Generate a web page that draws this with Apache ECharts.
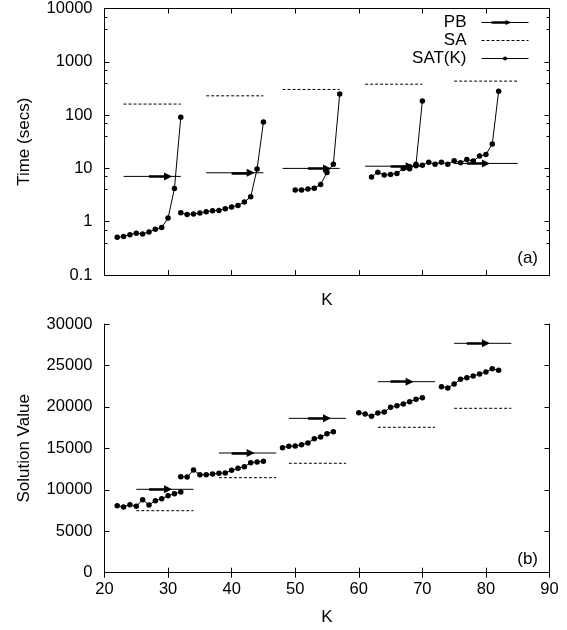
<!DOCTYPE html>
<html lang="en">
<head>
<meta charset="UTF-8">
<title>PB / SA / SAT(K)</title>
<script src="https://cdn.jsdelivr.net/npm/echarts@6/dist/echarts.min.js"></script>
<style>
  html, body { margin: 0; padding: 0; background: #fff; }
  #main { width: 567px; height: 630px; }
</style>
</head>
<body>
<div id="main"></div>
<script>
var FONT = 'Liberation Sans';

// ---- panel (a): time in seconds (log axis) ----
var satStartA = [22, 32, 50, 62, 68];
var satTimeA = [
  [0.51, 0.53, 0.57, 0.61, 0.59, 0.64, 0.72, 0.78, 1.17, 4.2, 91],
  [1.47, 1.37, 1.39, 1.45, 1.54, 1.60, 1.63, 1.75, 1.88, 2.02, 2.33, 2.93, 9.7, 74],
  [3.92, 3.92, 4.10, 4.22, 5.0, 8.4, 12.0, 250],
  [6.9, 8.5, 7.5, 7.7, 8.05, 10.0, 9.85, 12.0, 183],
  [10.7, 11.2, 11.5, 13.1, 12.0, 13.1, 12.0, 13.9, 12.7, 14.7, 13.7, 17.0, 18.3, 28.6, 281]
];
var lineFromA = [23, 36, 48, 61, 75];
var lineToA   = [32, 45, 57, 70, 85];
var pbTimeA = [7.08, 8.28, 10.0, 11.0, 12.4];
var saTimeA = [161, 230, 303, 380, 434];

// ---- panel (b): solution value ----
var satStartB = [22, 32, 48, 60, 73];
var satValueB = [
  [8080, 7925, 8200, 8010, 8810, 8170, 8690, 8930, 9290, 9530, 9735],
  [11580, 11545, 12390, 11820, 11820, 11910, 11990, 12030, 12350, 12590, 12790, 13270, 13350, 13440],
  [15080, 15250, 15280, 15440, 15650, 16160, 16370, 16770, 17010],
  [19300, 19140, 18870, 19265, 19390, 19950, 20150, 20350, 20630, 20920, 21110],
  [22440, 22280, 22760, 23330, 23520, 23730, 23970, 24210, 24610, 24420]
];
var lineFromB = [25, 38, 49, 63, 75];
var lineToB   = [34, 47, 58, 72, 84];
var pbValueB = [10060, 14440, 18620, 23040, 27670];
var saValueB = [7480, 11460, 13200, 17540, 19830];

// arrow drawn on each PB line, same K in both panels
var arrowFrom = [27, 40, 52, 65, 77];
var arrowTo   = [30, 43, 55, 68, 80];

function buildPanel(p, satStart, satVals, from, to, pbVals, saVals) {
  var xi = p * 2, yi = p * 2;
  var out = [];
  satVals.forEach(function (vals, i) {
    var pts = vals.map(function (v, j) { return [satStart[i] + j, v]; });
    out.push({
      type: 'line', name: 'SAT(K)', xAxisIndex: xi, yAxisIndex: yi, data: pts,
      symbol: 'circle', symbolSize: 5.5, z: 4,
      lineStyle: { color: '#000', width: 1 },
      itemStyle: { color: '#000', borderWidth: 0 }
    });
  });
  for (var i = 0; i < from.length; i++) {
    out.push({
      type: 'line', name: 'SA', xAxisIndex: xi, yAxisIndex: yi,
      data: [[from[i], saVals[i]], [to[i], saVals[i]]], symbol: 'none',
      lineStyle: { color: '#000', width: 1, type: [3, 2] },
      itemStyle: { color: '#000', borderWidth: 0 }
    });
    out.push({
      type: 'line', name: 'PB', xAxisIndex: xi, yAxisIndex: yi,
      data: [[from[i], pbVals[i]], [to[i], pbVals[i]]], symbol: 'none',
      lineStyle: { color: '#000', width: 1 },
      itemStyle: { color: '#000', borderWidth: 0 }
    });
  }
  out.push({
    type: 'lines', name: 'PB', coordinateSystem: 'cartesian2d',
    xAxisIndex: xi, yAxisIndex: yi, z: 3,
    data: arrowFrom.map(function (a, i) {
      return { coords: [[a, pbVals[i]], [arrowTo[i], pbVals[i]]] };
    }),
    lineStyle: { color: '#000', width: 2.5, opacity: 1 },
    symbol: ['none', 'triangle'], symbolSize: [5, 8]
  });
  return out;
}

function axisCommon() {
  return {
    axisLine: { show: true, lineStyle: { color: '#000', width: 1 } },
    axisTick: { show: true, inside: true, length: 5, lineStyle: { color: '#000' } },
    splitLine: { show: false },
    axisLabel: { color: '#000', fontFamily: FONT, fontSize: 16.5 },
    nameTextStyle: { color: '#000', fontFamily: FONT, fontSize: 17 }
  };
}

function xAx(grid, pos, labels, name, gap) {
  var a = axisCommon();
  a.type = 'value'; a.gridIndex = grid; a.position = pos;
  a.min = 20; a.max = 90; a.interval = 10;
  a.axisLabel.show = labels; a.axisLabel.margin = 8;
  if (name) { a.name = name; a.nameLocation = 'middle'; a.nameGap = gap; }
  return a;
}

function logY(pos, name) {
  var a = axisCommon();
  a.type = 'log'; a.logBase = 10; a.gridIndex = 0; a.position = pos;
  a.min = 0.1; a.max = 10000;
  a.minorTick = { show: true, splitNumber: 3, length: 3, lineStyle: { color: '#000' } };
  a.axisLabel.show = !!name; a.axisLabel.margin = 12;
  a.axisLabel.formatter = function (v) { return String(+(+v).toPrecision(6)); };
  if (name) { a.name = name; a.nameLocation = 'middle'; a.nameGap = 72; }
  return a;
}

function linY(pos, name) {
  var a = axisCommon();
  a.type = 'value'; a.gridIndex = 1; a.position = pos;
  a.min = 0; a.max = 30000; a.interval = 5000;
  a.axisLabel.show = !!name; a.axisLabel.margin = 12;
  a.axisLabel.formatter = function (v) { return String(v); };
  if (name) { a.name = name; a.nameLocation = 'middle'; a.nameGap = 72; }
  return a;
}

var chart = echarts.init(document.getElementById('main'));
var option = {
  backgroundColor: '#fff',
  animation: false,
  grid: [
    { left: 104.5, right: 17.5, top: 8.5, height: 266.5 },
    { left: 104.5, right: 17.5, top: 324, height: 248.7 }
  ],
  xAxis: [
    xAx(0, 'bottom', false, 'K', 16.5),
    xAx(0, 'top', false),
    xAx(1, 'bottom', true, 'K', 36),
    xAx(1, 'top', false)
  ],
  yAxis: [
    logY('left', 'Time (secs)'),
    logY('right'),
    linY('left', 'Solution Value'),
    linY('right')
  ],
  legend: {
    orient: 'vertical', align: 'right', right: 38, top: 14, padding: 0,
    itemWidth: 47, itemHeight: 5, itemGap: 1,
    lineStyle: { width: 1 },
    textStyle: { color: '#000', fontFamily: FONT, fontSize: 17, lineHeight: 17, padding: [0, 10, 0, 0] },
    data: [
      { name: 'PB', icon: 'path://M0,2 L47,2 L47,3 L0,3 Z M10,1.3 L24,1.3 L24,0 L30,2.5 L24,5 L24,3.7 L10,3.7 Z',
        itemStyle: { color: '#000', borderWidth: 0 } },
      { name: 'SA', itemStyle: { opacity: 0 } },
      { name: 'SAT(K)' }
    ]
  },
  graphic: [
    { type: 'text', right: 29, top: 250, style: { text: '(a)', fill: '#000', font: '17px "Liberation Sans"' } },
    { type: 'text', right: 29, top: 551, style: { text: '(b)', fill: '#000', font: '17px "Liberation Sans"' } }
  ],
  series: buildPanel(0, satStartA, satTimeA, lineFromA, lineToA, pbTimeA, saTimeA)
    .concat(buildPanel(1, satStartB, satValueB, lineFromB, lineToB, pbValueB, saValueB))
};
chart.setOption(option);
</script>
</body>
</html>
